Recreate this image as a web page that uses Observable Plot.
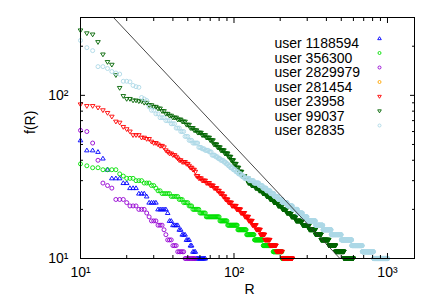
<!DOCTYPE html>
<html><head><meta charset="utf-8">
<script src="https://cdn.jsdelivr.net/npm/d3@7"></script>
<script src="https://cdn.jsdelivr.net/npm/@observablehq/plot@0.6"></script>
<style>
body{margin:0;background:#fff;}
#chart{width:436px;height:305px;}
</style>
</head><body><div id="chart"></div>
<script>
// ---- data (rank-frequency; first visible rank = 10) ----
const startRank = 10;
const seriesNames  = ["user 1188594","user 356300","user 2829979","user 281454","user 23958","user 99037","user 82835"];
const seriesColors = ["#0000ff","#00e000","#9400d3","#ffa500","#ff0000","#006400","#add8e6"];
const seriesShapes = ["triUp","circle","circle","circle","triDown","triDown","circle"];

// each series: frequency values f, and how many consecutive ranks n share it
const f1188594 = [53,46,45,41,35,31,29,27,25,24,22,20,19,17,16,15,14,13,12,11,10];
const n1188594 = [1,2,1,1,1,3,2,3,3,1,4,5,1,2,4,2,3,3,2,3,9];

const f356300 = [38,37,36,35,33,32,31,30,29,28,27,26,25,24,23,22,21,20,19,18,17,16,15,14,13,12,11,10];
const n356300 = [1,1,2,4,1,1,3,3,3,2,1,2,5,5,3,4,3,6,6,15,10,15,15,15,19,25,26,22];

const f2829979 = [61,60,51,40,29,28,27,23,22,21,20,19,18,17,16,15,14,13,12,11,10];
const n2829979 = [1,1,1,1,1,1,1,3,1,3,3,1,1,3,3,1,1,3,3,5,9];

const f281454 = [];
const n281454 = [];

const f23958 = [88,86,84,81,78,74,69,68,64,62,60, 57,55,54,52,51,50,49,48,46,45, 44,43,42,41,40,39,38,37,36,35, 34,32,31,30,29,28,27,26,25,24, 23,22,21,20,19,18,17,16,15,14, 13,12,11,10];
const n23958 = [1,2,1,1,1,1,1,1,1,1,1, 3,2,2,1,2,1,2,1,1,1, 2,2,1,1,2,3,2,1,2,2, 1,2,3,4,4,4,4,3,4,3, 4,5,7,7,7,7,7,8,9,10, 13,17,18,34];

const f99037 = [250,240,236,212,178,160,154,133,111,99, 95,93,92,90,87,85,83,80,77,75, 73,71,69,66,63,61,59,57,55,53, 50,48,46,44,42,40,38,36,34,32, 31,29,28,27,26,25,24,23,22,21, 20,19,18,17,16,15,14,13,12,11,10];
const n99037 = [1,1,1,1,1,1,1,1,1,1, 2,2,2,2,2,2,2,2,2,2, 3,3,3,3,3,3,4,4,4,4, 4,4,5,5,4,4,4,4,5,5, 6,6,8,8,8,9,9,10,12,13, 14,16,17,26,30,30,30,45,45,61,78];

const f82835 = [217,196,188,150,146,140,137,135,122,121,115,113,112, 97,95,93,85,81,77,73,70,67,63, 60,56,53,51,48,47,46,45,43,42, 41,40,39,38,37,36,35,34,33,32, 31,30,29,28,27,26,25,24,23,22, 21,20,19,18,17,16,15,14,13,12, 11,10];
const n82835 = [1,1,1,2,1,1,1,1,2,1,1,1,1, 1,1,1,1,2,2,3,3,3,3, 3,3,3,5,3,3,4,3,4,3, 3,4,3,3,3,4,4,4,5,5, 9,9,11,8,9,10,10,11,13,16, 18,19,20,20,40,40,50,70,85,100, 126,195];

// reference power-law line (two end points)
const lineR = [16.4, 490];
const lineF = [300, 10];

// axes
const xDomain = [10, 1500];
const yDomain = [10, 300];
const xMajor = [10, 100, 1000];
const xMajorLabels = ["10¹", "10²", "10³"];
const xMinor = [20,30,40,50,60,70,80,90,200,300,400,500,600,700,800,900];
const yMajor = [10, 100];
const yMajorLabels = ["10¹", "10²"];
const yMinor = [20,30,40,50,60,70,80,90,200];
const xTitle = "R";
const yTitle = "f(R)";

// ---- build ----
const seriesF = [f1188594, f356300, f2829979, f281454, f23958, f99037, f82835];
const seriesN = [n1188594, n356300, n2829979, n281454, n23958, n99037, n82835];

function expand(name, fs, ns) {
  const rows = [];
  let r = startRank;
  fs.forEach((f, i) => { for (let k = 0; k < ns[i]; k++) { rows.push({series: name, R: r, f}); r++; } });
  return rows;
}

const triUp = {draw(ctx, size) { const r = Math.sqrt(size / Math.PI); ctx.moveTo(0, -r); ctx.lineTo(r, 0.65 * r); ctx.lineTo(-r, 0.65 * r); ctx.closePath(); }};
const triDown = {draw(ctx, size) { const r = Math.sqrt(size / Math.PI); ctx.moveTo(0, r); ctx.lineTo(r, -0.65 * r); ctx.lineTo(-r, -0.65 * r); ctx.closePath(); }};
const shapeOf = {triUp, triDown, circle: "circle"};

const marks = [];
seriesNames.forEach((name, i) => {
  const rows = expand(name, seriesF[i], seriesN[i]);
  const sh = seriesShapes[i];
  marks.push(Plot.dot(rows, {x: "R", y: "f", symbol: shapeOf[sh], r: sh === "circle" ? 2.0 : 2.3,
    stroke: seriesColors[i], fill: "none", strokeWidth: 0.9}));
});
marks.push(Plot.line(lineR.map((R, i) => ({R, f: lineF[i]})), {x: "R", y: "f", stroke: "#333", strokeWidth: 0.9}));

// frame + inward ticks on all sides
marks.push(Plot.frame({stroke: "black", strokeWidth: 1}));
for (const anchor of ["bottom", "top"]) {
  marks.push(Plot.axisX({anchor, ticks: xMajor, tickSize: -5, tickFormat: () => "", label: null}));
  marks.push(Plot.axisX({anchor, ticks: xMinor, tickSize: -3, tickFormat: () => "", label: null}));
}
for (const anchor of ["left", "right"]) {
  marks.push(Plot.axisY({anchor, ticks: yMajor, tickSize: -5, tickFormat: () => "", label: null}));
  marks.push(Plot.axisY({anchor, ticks: yMinor, tickSize: -3, tickFormat: () => "", label: null}));
}
// tick labels
marks.push(Plot.axisX({anchor: "bottom", ticks: xMajor, tickSize: 0, tickPadding: 9, tickFormat: d => xMajorLabels[xMajor.indexOf(d)], label: null}));
marks.push(Plot.axisY({anchor: "left", ticks: yMajor, tickSize: 0, tickPadding: 12, tickFormat: d => yMajorLabels[yMajor.indexOf(d)], label: null}));
// axis titles
marks.push(Plot.text([xTitle], {text: d => d, frameAnchor: "bottom", dx: 2, dy: 35}));
marks.push(Plot.text([yTitle], {text: d => d, frameAnchor: "left", dx: -50, dy: -4, rotate: -90}));

// legend (inside, top right)
seriesNames.forEach((name, i) => {
  const dy = 21 + i * 14.5;
  marks.push(Plot.text([name], {text: d => d, frameAnchor: "top-left", dx: 194, dy, textAnchor: "start"}));
  const sh = seriesShapes[i];
  marks.push(Plot.dot([name], {frameAnchor: "top-left", dx: 299, dy, symbol: shapeOf[sh], r: sh === "circle" ? 1.5 : 1.8,
    stroke: seriesColors[i], fill: "none", strokeWidth: 0.9}));
});

const chart = Plot.plot({
  width: 436, height: 305,
  marginLeft: 80, marginRight: 22, marginTop: 17, marginBottom: 47,
  x: {type: "log", domain: xDomain},
  y: {type: "log", domain: yDomain},
  style: {fontFamily: "'Liberation Sans', Arial, sans-serif", fontSize: "14px", color: "black", background: "white", overflow: "visible"},
  marks
});
document.getElementById("chart").appendChild(chart);
</script>
</body></html>
